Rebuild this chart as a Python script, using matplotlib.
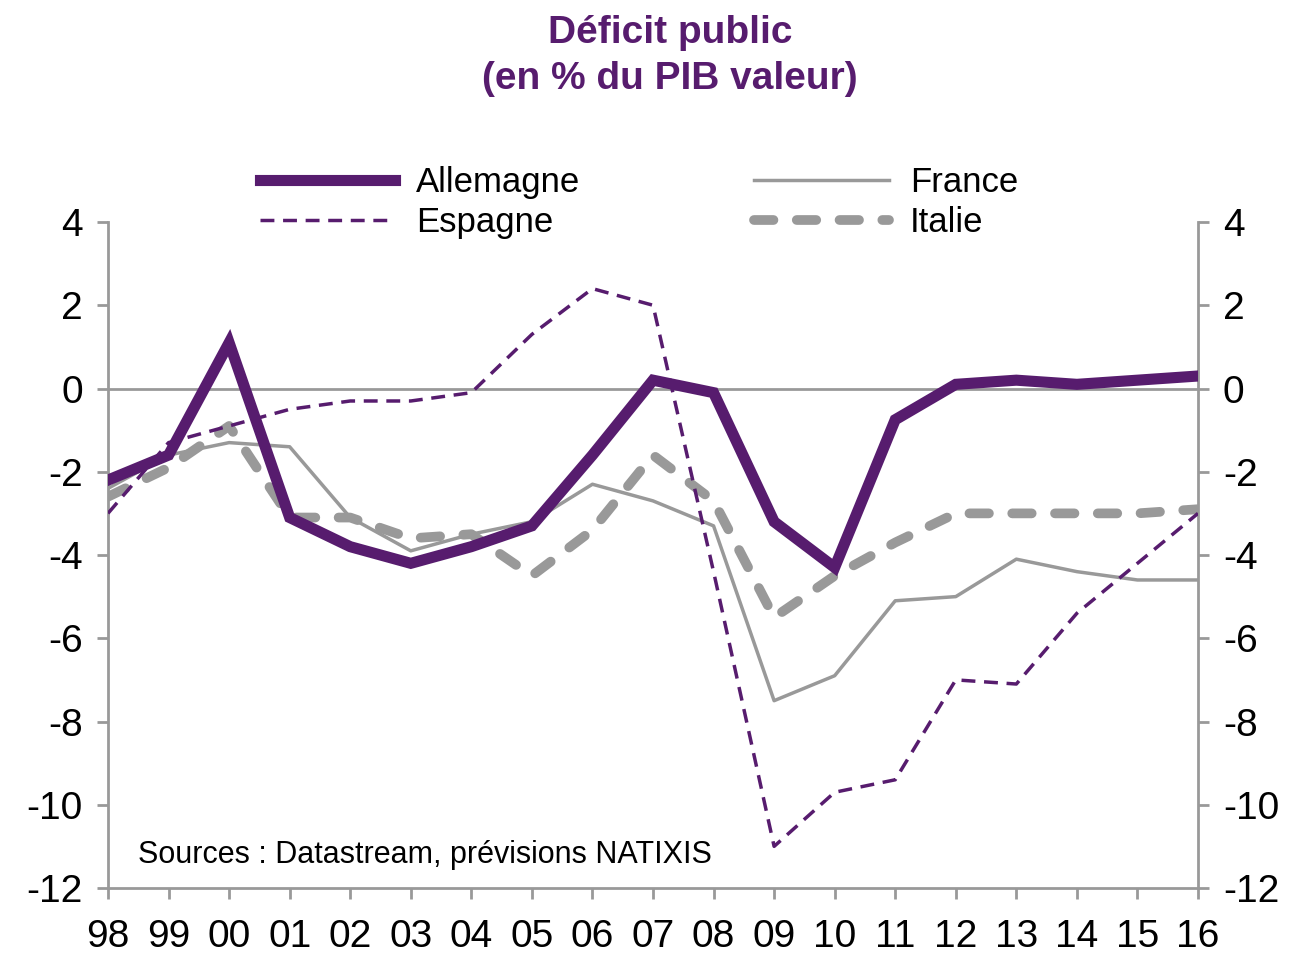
import matplotlib
matplotlib.use('Agg')
from matplotlib import pyplot as plt

years = ['98', '99', '00', '01', '02', '03', '04', '05', '06', '07',
         '08', '09', '10', '11', '12', '13', '14', '15', '16']
allemagne = [-2.2, -1.6, 1.1, -3.1, -3.8, -4.2, -3.8, -3.3, -1.6, 0.2,
             -0.1, -3.2, -4.3, -0.75, 0.1, 0.2, 0.1, 0.2, 0.3]
france = [-2.4, -1.6, -1.3, -1.4, -3.1, -3.9, -3.5, -3.2, -2.3, -2.7,
          -3.3, -7.5, -6.9, -5.1, -5.0, -4.1, -4.4, -4.6, -4.6]
espagne = [-3.0, -1.3, -0.9, -0.5, -0.3, -0.3, -0.1, 1.3, 2.4, 2.0,
           -4.4, -11.0, -9.7, -9.4, -7.0, -7.1, -5.4, -4.2, -3.0]
italie = [-2.6, -1.9, -0.9, -3.1, -3.1, -3.6, -3.5, -4.5, -3.4, -1.6,
          -2.7, -5.5, -4.5, -3.7, -3.0, -3.0, -3.0, -3.0, -2.9]

purple = '#571C6E'
grey = '#999999'
plt.rcParams['font.family'] = ['Liberation Sans', 'DejaVu Sans']
plt.rcParams['axes.unicode_minus'] = False

fig = plt.figure(figsize=(12.96, 9.55), dpi=100)
ax = fig.add_axes([108 / 1296, 1 - 888 / 955, 1090 / 1296, 666 / 955])
x = list(range(len(years)))

ax.axhline(0, color=grey, lw=2, zorder=1)
ax.plot(x, allemagne, color=purple, lw=8, label='Allemagne', zorder=4,
        solid_joinstyle='miter')
ax.plot(x, espagne, color=purple, lw=2.5, ls=(0, (4, 2.5)), label='Espagne', zorder=5)
ax.plot(x, france, color=grey, lw=2.5, label='France', zorder=2)
ax.plot(x, italie, color=grey, lw=7, ls=(0, (2, 2.4)), dash_capstyle='round',
        label='Italie', zorder=3)

ax.set_xlim(0, len(years) - 1)
ax.set_ylim(-12, 4)
ax.set_xticks(x)
ax.set_xticklabels(years)
ax.set_yticks(range(-12, 5, 2))
ax.tick_params(axis='both', labelsize=28, color=grey, width=2, length=8, direction='out')
ax.tick_params(axis='y', right=True, labelright=True, pad=10)
ax.tick_params(axis='x', pad=14)
ax.spines['top'].set_visible(False)
for s in ['left', 'right', 'bottom']:
    ax.spines[s].set_color(grey)
    ax.spines[s].set_linewidth(2)

ax.text(0.5, -11.2, 'Sources : Datastream, prévisions NATIXIS', fontsize=22, va='center')

fig.text(0.517, 0.965, 'Déficit public', ha='center', va='center',
         fontsize=28, fontweight='bold', color=purple)
fig.text(0.517, 0.917, '(en % du PIB valeur)', ha='center', va='center',
         fontsize=28, fontweight='bold', color=purple)

fig.legend(loc='center', bbox_to_anchor=(0.493, 0.788), ncol=2, frameon=False,
           fontsize=25, handlelength=3.9, columnspacing=5.0, handletextpad=0.6,
           labelspacing=0.2)

plt.savefig('out.png', dpi=100)
